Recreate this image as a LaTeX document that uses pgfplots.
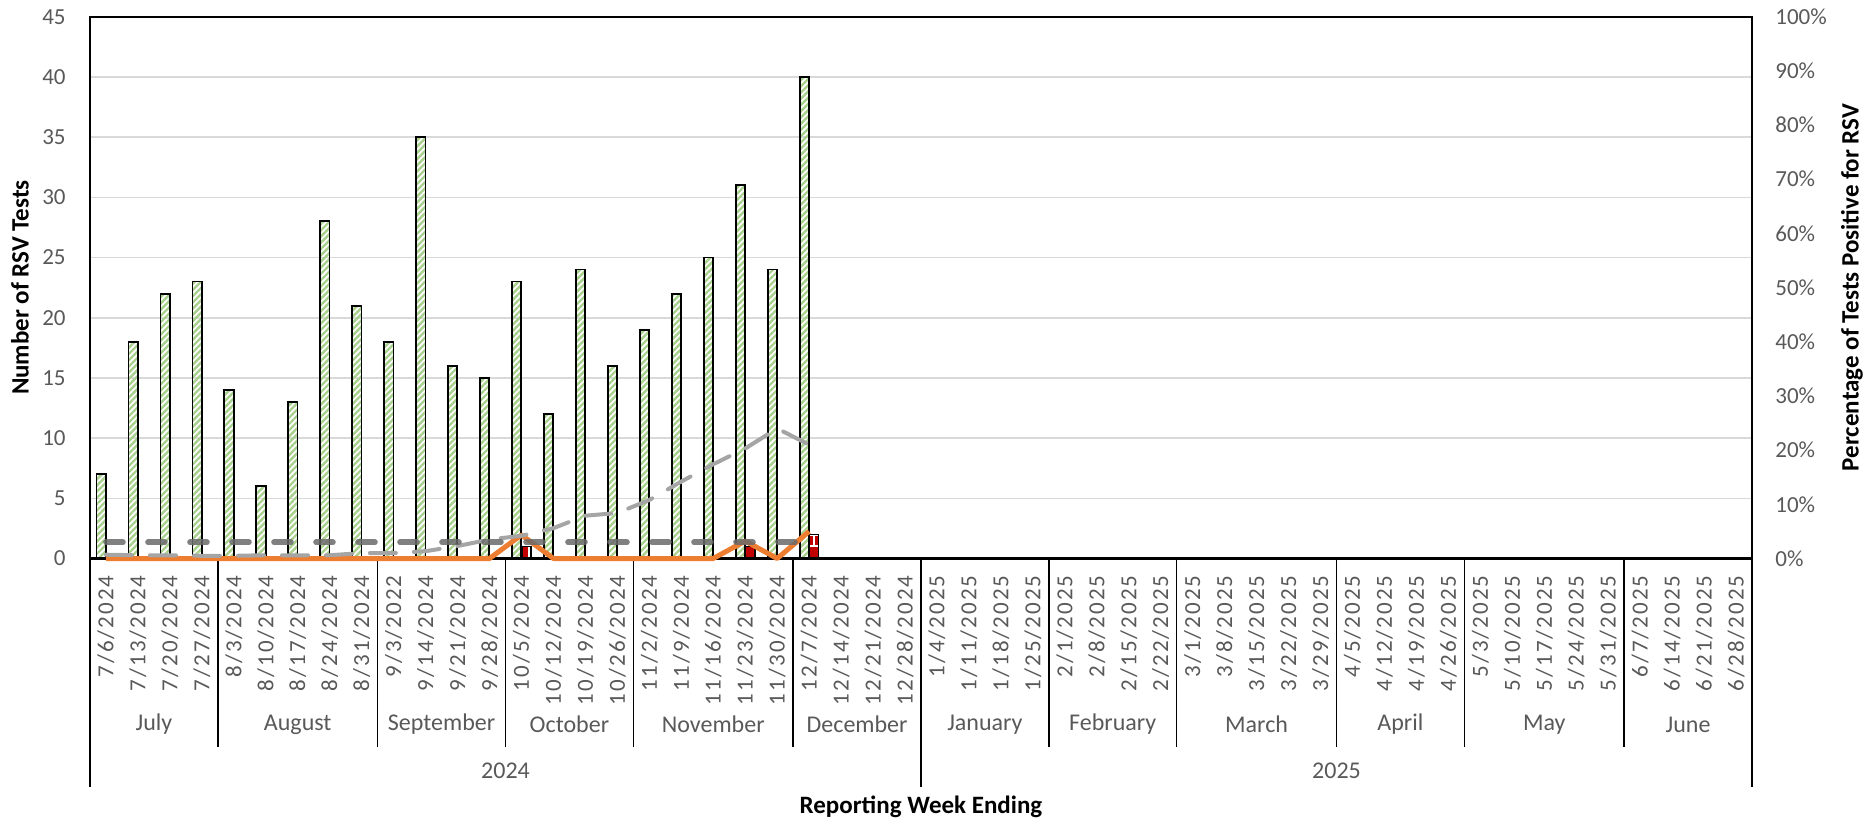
\documentclass[border=0pt]{standalone}
\usepackage{fontspec}
\setmainfont{Carlito}
\newfontfamily\datefont[LetterSpace=9]{Carlito}
\usepackage{pgfplots}
\pgfplotsset{compat=1.18}
\usetikzlibrary{patterns,patterns.meta}
\definecolor{tickgray}{HTML}{595959}
\definecolor{barGreen}{HTML}{A9D18E}
\definecolor{barRed}{HTML}{C00000}
\definecolor{lineOrange}{HTML}{ED7D31}
\definecolor{lineLight}{HTML}{A5A5A5}
\definecolor{lineDark}{HTML}{6A6A6A}
\definecolor{gridc}{HTML}{D9D9D9}

\begin{document}
\begin{tikzpicture}
\begin{axis}[
  at={(0,0)}, anchor=south west,
  scale only axis, width=831pt, height=270.9pt,
  xmin=-0.5, xmax=51.5, ymin=0, ymax=45,
  ytick={0,5,...,45},
  xtick={0,...,51},
  xticklabels={7/6/2024,7/13/2024,7/20/2024,7/27/2024,
    8/3/2024,8/10/2024,8/17/2024,8/24/2024,8/31/2024,
    9/3/2022,9/14/2024,9/21/2024,9/28/2024,
    10/5/2024,10/12/2024,10/19/2024,10/26/2024,
    11/2/2024,11/9/2024,11/16/2024,11/23/2024,11/30/2024,
    12/7/2024,12/14/2024,12/21/2024,12/28/2024,
    1/4/2025,1/11/2025,1/18/2025,1/25/2025,
    2/1/2025,2/8/2025,2/15/2025,2/22/2025,
    3/1/2025,3/8/2025,3/15/2025,3/22/2025,3/29/2025,
    4/5/2025,4/12/2025,4/19/2025,4/26/2025,
    5/3/2025,5/10/2025,5/17/2025,5/24/2025,5/31/2025,
    6/7/2025,6/14/2025,6/21/2025,6/28/2025},
  xticklabel style={rotate=90, anchor=east, inner sep=0pt,
    font=\datefont\fontsize{11.5}{12}\selectfont, text=tickgray},
  xticklabel shift=8.25pt,
  yticklabel style={anchor=east, inner sep=0pt, xshift=-12pt,
    font=\fontsize{11.5}{12}\selectfont, text=tickgray},
  /pgf/number format/assume math mode=true,
  tick style={draw=none},
  ymajorgrids, major grid style={gridc, line width=0.8pt},
  axis line style={black, line width=0.9pt},
  clip=false,
]
\addplot[ybar, bar width=0.29, bar shift=-0.15, draw=black, line width=0.9pt,
  pattern={Lines[angle=45,distance=2.2pt,line width=1.2pt]}, pattern color=barGreen]
  coordinates {(0,7)(1,18)(2,22)(3,23)(4,14)(5,6)(6,13)(7,28)(8,21)
    (9,18)(10,35)(11,16)(12,15)(13,23)(14,12)(15,24)(16,16)
    (17,19)(18,22)(19,25)(20,31)(21,24)(22,40)};
\addplot[ybar, bar width=0.29, bar shift=0.15, draw=black, line width=0.9pt,
  fill=barRed, postaction={pattern=bricks, pattern color=white}]
  coordinates {(13,1)(20,1)(22,2)};
\draw[black, line width=1.4pt] (axis cs:-0.5,0) -- (axis cs:51.5,0);
\pgfplotsinvokeforeach{3.5,8.5,12.5,16.5,21.5,29.5,33.5,38.5,42.5,47.5}{
  \draw[black, line width=0.75pt] (axis cs:#1,0) -- ++(0pt,-94.25pt);}
\pgfplotsinvokeforeach{-0.5,25.5,51.5}{
  \draw[black, line width=0.75pt] (axis cs:#1,0) -- ++(0pt,-114.25pt);}
\tikzset{mlab/.style={font=\fontsize{12}{13}\selectfont, text=tickgray, yshift=-83pt},
         ylab/.style={font=\fontsize{12}{13}\selectfont, text=tickgray, yshift=-106.25pt}}
\node[mlab] at (axis cs:1.5,0) {July};
\node[mlab] at (axis cs:6,0) {August};
\node[mlab] at (axis cs:10.5,0) {September};
\node[mlab] at (axis cs:14.5,0) {October};
\node[mlab] at (axis cs:19,0) {November};
\node[mlab] at (axis cs:23.5,0) {December};
\node[mlab] at (axis cs:27.5,0) {January};
\node[mlab] at (axis cs:31.5,0) {February};
\node[mlab] at (axis cs:36,0) {March};
\node[mlab] at (axis cs:40.5,0) {April};
\node[mlab] at (axis cs:45,0) {May};
\node[mlab] at (axis cs:49.5,0) {June};
\node[ylab] at (axis cs:12.5,0) {2024};
\node[ylab] at (axis cs:38.5,0) {2025};
\end{axis}
\begin{axis}[
  at={(0,0)}, anchor=south west,
  scale only axis, width=831pt, height=270.9pt,
  xmin=-0.5, xmax=51.5, ymin=0, ymax=100,
  axis y line*=right, axis x line=none,
  ytick={0,10,...,100},
  yticklabel={\pgfmathprintnumber{\tick}\%},
  yticklabel style={anchor=west, inner sep=0pt, xshift=11.5pt,
    font=\fontsize{11.5}{12}\selectfont, text=tickgray},
  /pgf/number format/assume math mode=true,
  tick style={draw=none},
  axis line style={black, line width=0.9pt},
  clip=false,
]
\addplot[lineOrange, line width=2.5pt, line join=round, mark=none]
  coordinates {(0,0)(1,0)(2,0)(3,0)(4,0)(5,0)(6,0)(7,0)(8,0)(9,0)(10,0)(11,0)(12,0)
    (13,4.35)(14,0)(15,0)(16,0)(17,0)(18,0)(19,0)(20,3.23)(21,0)(22,5.0)};
\addplot[lineLight, line width=2pt, line cap=round, dash pattern=on 13pt off 9pt, mark=none]
  coordinates {(0,0.7)(1,0.6)(2,0.6)(3,0.5)(4,0.5)(5,0.6)(6,0.6)(7,0.6)(8,1.0)(9,1.0)
    (10,1.35)(11,2.3)(12,3.5)(13,4.2)(14,5.6)(15,7.9)(16,8.4)(17,10.8)(18,14.2)
    (19,17.4)(20,20.3)(21,24.0)(22,21.0)};
\addplot[lineDark, opacity=0.85, line width=2.8pt, line cap=round, dash pattern=on 8.5pt off 12.5pt, mark=none]
  coordinates {(0,3)(1,3)(2,3)(3,3)(4,3)(5,3)(6,3)(7,3)(8,3)(9,3)(10,3)(11,3)(12,3)
    (13,3)(14,3)(15,3)(16,3)(17,3)(18,3)(19,3)(20,3)(21,3)(22,3)};
\end{axis}
\node[rotate=90, font=\bfseries\fontsize{12.5}{14}\selectfont] at (-35pt,135.45pt) {Number of RSV Tests};
\node[rotate=90, font=\bfseries\fontsize{12.5}{14}\selectfont] at (881pt,135.45pt) {Percentage of Tests Positive for RSV};
\node[font=\bfseries\fontsize{12.5}{14}\selectfont] at (415.5pt,-124.25pt) {Reporting Week Ending};
\pgfresetboundingbox
\useasboundingbox (-45pt,-133.25pt) rectangle (892.5pt,279.25pt);
\end{tikzpicture}
\end{document}
